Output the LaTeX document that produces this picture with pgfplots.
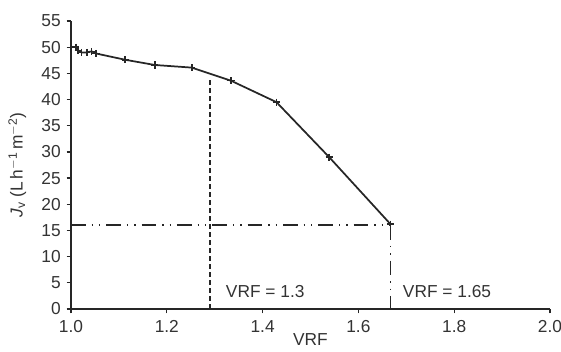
\documentclass[border=0pt]{standalone}
\usepackage{pgfplots}
\pgfplotsset{compat=1.18}
\usepackage{fontspec}
\setmainfont{Liberation Sans}
\definecolor{ink}{HTML}{262626}
\definecolor{txt}{HTML}{333333}
\begin{document}
\fontsize{13}{15}\selectfont
\begin{tikzpicture}
\begin{axis}[
  at={(0,0)}, anchor=south west,
  scale only axis,
  width=359.25pt, height=216pt,
  xmin=1.0, xmax=2.0, ymin=0, ymax=55,
  axis x line=bottom, axis y line=left,
  axis line style={-, ink, line width=0.9pt},
  tick align=outside, tick style={ink, line width=0.9pt},
  major tick length=3.2pt,
  xtick={1.0,1.2,...,2.0},
  ytick={0,5,...,55},
  xticklabel style={/pgf/number format/fixed, /pgf/number format/fixed zerofill, /pgf/number format/precision=1, yshift=-1pt},
  /pgf/number format/assume math mode=true,
  ticklabel style={text=txt, font=\fontsize{13}{15}\selectfont},
  xlabel={VRF},
  ylabel={\textit{J}\textsubscript{v} (L\,h\textsuperscript{$-$1}\,m\textsuperscript{$-$2})},
  label style={text=txt, font=\fontsize{13}{15}\selectfont},
  xlabel style={at={(axis description cs:0.5,0)}, anchor=south, yshift=-32pt},
  ylabel style={at={(axis description cs:-0.112,0.5)}, anchor=center},
  clip=false,
]
\addplot[ink, line width=1.3pt, mark=+, mark size=2.7pt, mark options={line width=1.2pt}] coordinates {
(1.010,50.0) (1.015,49.4) (1.022,49.0) (1.033,49.0) (1.043,49.2) (1.052,48.8)
(1.113,47.6) (1.175,46.6) (1.252,46.1) (1.334,43.6) (1.429,39.5) (1.539,29.0) (1.667,16.2)
};
\addplot[ink, line width=1.3pt, dash pattern=on 3.5pt off 2.5pt] coordinates {(1.29,0) (1.29,44.3)};
\addplot[ink, line width=1.2pt, dash pattern=on 11pt off 4.5pt on 1pt off 4.5pt on 1pt off 4.5pt] coordinates {(1.0,16) (1.667,16)};
\addplot[ink, line width=1.2pt, dash pattern=on 11pt off 4.5pt on 1pt off 4.5pt on 1pt off 4.5pt] coordinates {(1.667,16) (1.667,0)};
\node[anchor=base west, text=txt, inner sep=0pt] at (axis cs:1.323,2.2) {VRF = 1.3};
\node[anchor=base west, text=txt, inner sep=0pt] at (axis cs:1.6925,2.2) {VRF = 1.65};
\end{axis}
\pgfresetboundingbox
\path (-53.25pt,-32.25pt) rectangle (367.5pt,231.75pt);
\end{tikzpicture}
\end{document}
